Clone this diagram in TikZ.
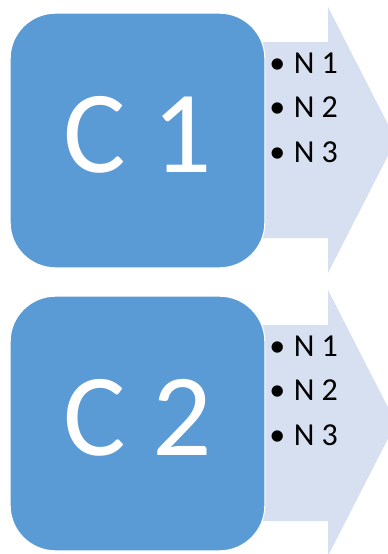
\documentclass[tikz,border=0pt]{standalone}
\usepackage{fontspec}
\setmainfont{Carlito}
\usepackage{tikz}

\definecolor{boxblue}{RGB}{91,155,213}
\definecolor{arrowblue}{RGB}{214,224,240}

\tikzset{
  catbox/.style={draw=white, line width=0.8pt, fill=boxblue, rounded corners=34pt,
    minimum width=191pt, minimum height=191pt, inner sep=0pt},
  cattext/.style={text=white, inner sep=0pt, font=\fontsize{88}{88}\selectfont},
  itemtext/.style={anchor=base west, inner sep=0pt, font=\fontsize{24}{24}\selectfont}
}

\begin{document}
\begin{tikzpicture}[x=0.75pt,y=-0.75pt]
  \useasboundingbox (0,0) rectangle (388,554);
  \clip (0,0) rectangle (388,554);

  \foreach \off/\cLabel in {0/1,
    283/2}
  {
    % block arrow behind the box
    \fill[arrowblue] (200,42+\off) -- (328,42+\off) -- (328,7+\off)
      -- (396,140+\off) -- (328,273+\off) -- (328,238+\off)
      -- (200,238+\off) -- cycle;
    % rounded box and its label
    \node[catbox] (box\cLabel) at (137.5,140.5+\off) {};
    \node[cattext] (cat\cLabel) at ([yshift=4pt]box\cLabel.center) {C \cLabel};
    % bullet list
    \foreach \n/\base in {1/73, 2/117, 3/162}
    {
      \node[itemtext] (item\cLabel\n) at (269,\base+\off) {\textbullet\hspace{6.5pt}N \n};
    }
  }
\end{tikzpicture}
\end{document}
